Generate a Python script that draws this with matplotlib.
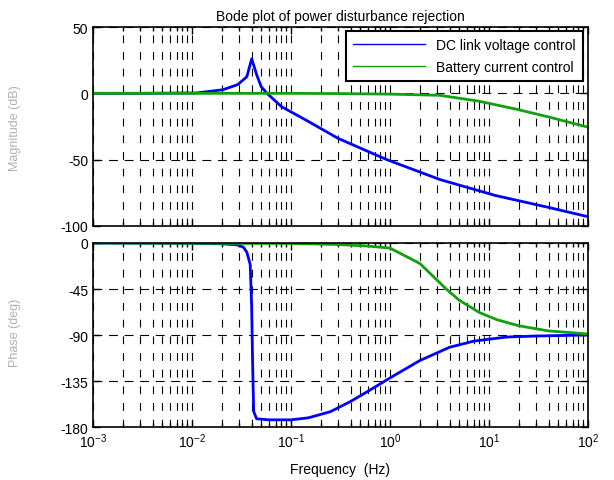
import numpy as np
import matplotlib.pyplot as plt
from matplotlib.lines import Line2D
from matplotlib.ticker import LogLocator, NullFormatter

plt.rcParams['font.family'] = ['Liberation Sans', 'DejaVu Sans']
plt.rcParams['font.size'] = 10
plt.rcParams['axes.unicode_minus'] = False

# magnitude, DC link voltage control
f_mag_dc = [1e-3, 3e-3, 0.0112, 0.0205, 0.029, 0.0358, 0.0401, 0.045, 0.05, 0.0573,
            0.08, 0.145, 0.3, 0.93, 3.2, 11.6, 40, 100]
mag_dc = [0, 0, 0.3, 2.7, 6.6, 12.5, 26, 14, 5, 0,
          -10, -20.6, -34, -50, -65, -77, -86, -93]

# magnitude, battery current control
f_mag_bat = [1e-3, 0.1, 0.3, 1, 3.2, 8, 19, 41, 100]
mag_bat = [0, 0, -0.2, -0.6, -1.5, -6, -12, -18, -25.5]

# phase, DC link voltage control
f_ph_dc = [1e-3, 0.01, 0.02, 0.0284, 0.033, 0.0358, 0.0387, 0.040, 0.041, 0.042,
           0.045, 0.06, 0.1, 0.15, 0.25, 0.4, 0.6, 1, 2, 4, 7, 15, 30, 100]
ph_dc = [0, -0.3, -0.8, -1.8, -4, -9, -21, -60, -120, -165,
         -172, -173, -173, -171, -165, -155, -145, -132, -115, -102, -96, -92, -91, -90]

# phase, battery current control
f_ph_bat = [1e-3, 0.1, 0.3, 0.6, 1, 2, 3.7, 5, 8, 12, 20, 40, 100]
ph_bat = [0, -0.5, -1.5, -3, -5, -20, -45, -56, -68, -75, -81, -86, -89]

blue = '#0000ff'
green = '#10a010'

fig = plt.figure(figsize=(6.14, 4.81), dpi=100)
W, H = 614, 481
ax1 = fig.add_axes([93 / W, 1 - 227 / H, 495 / W, 199 / H])
ax2 = fig.add_axes([93 / W, 1 - 428 / H, 495 / W, 184 / H])

ax1.plot(f_mag_dc, mag_dc, color=blue, lw=2)
ax1.plot(f_mag_bat, mag_bat, color=green, lw=2)
ax2.plot(f_ph_dc, ph_dc, color=blue, lw=2)
ax2.plot(f_ph_bat, ph_bat, color=green, lw=2)

for ax in (ax1, ax2):
    ax.set_xscale('log')
    ax.set_xlim(1e-3, 1e2)
    ax.xaxis.set_major_locator(LogLocator(base=10, numticks=10))
    ax.xaxis.set_minor_locator(LogLocator(base=10, subs=np.arange(2, 10), numticks=10))
    ax.xaxis.set_minor_formatter(NullFormatter())
    ax.grid(True, which='major', axis='y', color='k', lw=0.8, linestyle=(0, (8, 6)))
    ax.grid(True, which='both', axis='x', color='k', lw=0.8, linestyle=(0, (7, 8)))
    ax.tick_params(which='both', direction='in', top=True, right=True, width=1)
    ax.tick_params(which='major', length=5, labelsize=10)
    ax.tick_params(which='minor', length=3)
    for s in ax.spines.values():
        s.set_linewidth(1.2)

ax1.set_ylim(-100, 50)
ax1.set_yticks([-100, -50, 0, 50])
ax1.tick_params(axis='x', labelbottom=False)
ax2.set_ylim(-180, 0)
ax2.set_yticks([-180, -135, -90, -45, 0])

ax1.set_title('Bode plot of power disturbance rejection', fontsize=10, pad=5)
ax2.set_xlabel('Frequency  (Hz)', fontsize=10, labelpad=8)

fig.text(15 / W, 1 - 128 / H, 'Magnitude (dB)', rotation=90, ha='center', va='center',
         fontsize=9, color='#b0b0b0')
fig.text(15 / W, 1 - 333 / H, 'Phase (deg)', rotation=90, ha='center', va='center',
         fontsize=9, color='#b0b0b0')

handles = [Line2D([], [], color=blue, lw=1), Line2D([], [], color=green, lw=1)]
leg = ax1.legend(handles, ['DC link voltage control', 'Battery current control'],
                 loc='upper right', bbox_to_anchor=(583 / W, 1 - 32 / H),
                 bbox_transform=fig.transFigure, fancybox=False, framealpha=1,
                 edgecolor='k', fontsize=10, handlelength=5.2, borderpad=0.5,
                 labelspacing=0.55, borderaxespad=0)
leg.get_frame().set_linewidth(1.5)

fig.savefig('out.png', dpi=100)
